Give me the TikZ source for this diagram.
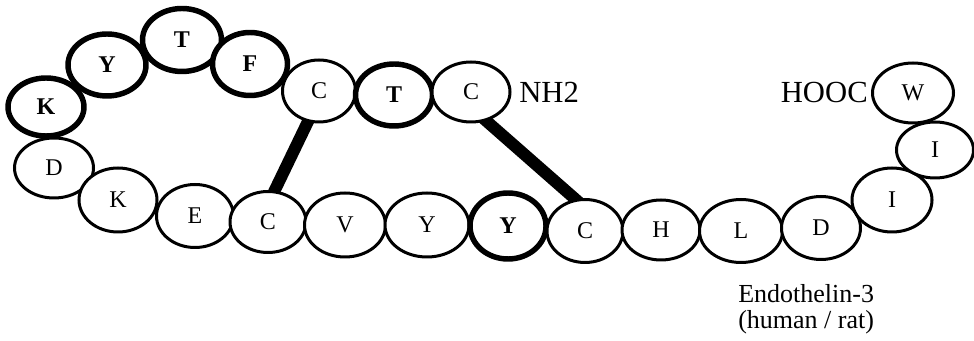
\documentclass[tikz,border=0pt]{standalone}
\usepackage{fontspec}
\setmainfont{Liberation Serif}
\usetikzlibrary{shapes.geometric,backgrounds}
\begin{document}
\begin{tikzpicture}[x=0.75pt,y=-0.75pt,
  res/.style 2 args={ellipse,draw,fill=white,line width=2.25pt,inner sep=0pt,
    minimum width=(#1+4)*0.75pt,minimum height=(#2+3)*0.75pt,font=\fontsize{18}{18}\selectfont},
  resb/.style 2 args={res={#1}{#2},line width=4.1pt,font=\fontsize{18}{18}\selectfont\bfseries},
  bond/.style={line width=9pt},
  lab/.style={inner sep=0pt,font=\fontsize{23}{23}\selectfont}]
\useasboundingbox (0,0) rectangle (974,341);
% top loop
\node[resb={72}{55}] (k1) at (46,107) {K};
\node[resb={74}{59}] (y1) at (107,65) {Y};
\node[resb={75}{60}] (t1) at (182,40) {T};
\node[resb={71}{60}] (f1) at (250,64) {F};
\node[res={69}{59}] (c1) at (319,91) {C};
\node[resb={73}{59}] (t2) at (394,95) {T};
\node[res={74}{57}] (c2) at (471,92) {C};
% bottom chain
\node[res={75}{57}] (d1) at (54,168) {D};
\node[res={74}{61}] (k2) at (118,200) {K};
\node[res={73}{60}] (e1) at (195,216) {E};
\node[res={72}{58}] (c3) at (268,222) {C};
\node[res={77}{61}] (v1) at (345,225) {V};
\node[res={80}{61}] (y2) at (427,225) {Y};
\node[resb={72}{63}] (y3) at (508,226) {Y};
\node[res={72}{60}] (c4) at (585,231) {C};
\node[res={74}{57}] (h1) at (661,230) {H};
\node[res={79}{60}] (l1) at (741,231) {L};
\node[res={75}{60}] (d2) at (821,228) {D};
\node[res={76}{61}] (i1) at (892,200) {I};
\node[res={73}{53}] (i2) at (935,150) {I};
\node[res={77}{57}] (w1) at (913,93) {W};
% labels
\node[lab,anchor=west] (nh) at (519,92) {NH2};
\node[lab,anchor=east] (hooc) at (868,93) {HOOC};
\node[inner sep=0pt,anchor=north west,align=left,font=\fontsize{19.5}{20}\selectfont] (name) at (738,284) {Endothelin-3\\(human / rat)};
% disulfide bonds
\begin{pgfonlayer}{background}
\draw[bond,shorten <=-6pt,shorten >=-6pt] (c1.250) -- (c3.78);
\draw[bond,shorten <=-6pt,shorten >=-6pt] (c2.-62) -- (c4.107);
\end{pgfonlayer}
\end{tikzpicture}
\end{document}
